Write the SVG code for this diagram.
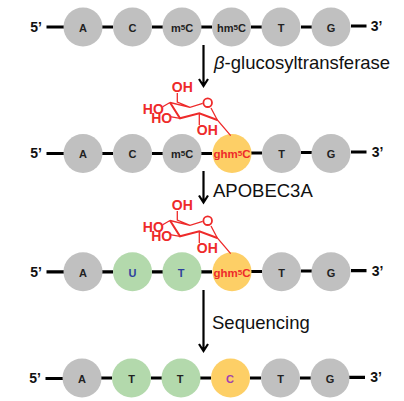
<svg xmlns="http://www.w3.org/2000/svg" width="404" height="401" viewBox="0 0 404 401">
<style>
text{font-family:"Liberation Sans",Arial,sans-serif}
.n{font-size:11px;font-weight:700;fill:#222;text-anchor:middle}
.e{font-size:14px;font-weight:700;fill:#111;text-anchor:middle}
.l{font-size:18.500px;fill:#111}
.g{fill:#c0c0c0}.y{fill:#fdcf66}.v{fill:#b3d9ac}
.b{stroke:#000;stroke-width:3.200;fill:none}
.a{stroke:#000;stroke-width:2.200;fill:none}
.r{stroke:#ee2a2a;stroke-width:1.300;fill:none}
.w{stroke:#ee2a2a;stroke-width:2;fill:none}
.o{font-size:14px;font-weight:700;fill:#ee2a2a;text-anchor:middle}
.t{font-size:11.500px;font-weight:700;fill:#ee2a2a;text-anchor:middle}
.s{font-size:8px}
.u{fill:#2e3f9e}
</style>
<defs>
<g id="sugar">
<path class="r" d="M37.300 18V27L50 32.300L62.700 28.300M30 27.500L50 32.300M22.700 31.700L30 27.500M30 41.700L40 43.300M59.300 38.300V50M71 33L77.300 45L90.700 60.700"/>
<path class="w" d="M30 27.500L40 43.300L59.300 38.300L77.300 45"/>
<circle class="r" style="stroke-width:1.800" cx="67.700" cy="27.700" r="4.300"/>
<text class="o" x="42.300" y="17.300">OH</text>
<text class="o" x="13.300" y="39.300">HO</text>
<text class="o" x="21.700" y="48.300">HO</text>
<text class="o" x="67.300" y="60">OH</text>
</g>
</defs>
<g id="connectors">
<path class="b" d="M46.500 27H64M102 27H113M152 27H163M201 27H212M251 27H262M301 27H312M351 26H366.500"/>
<path class="b" d="M46.500 153.500H64M102 153.500H113M152 153.500H163M201 153.500H212M251 153H262M301 152.500H312M351 152H366.500"/>
<path class="b" d="M46.500 271.800H64M102 271.800H113M152 271.800H163M201 271.800H212M251 271.500H262M301 271H312M351 270.700H366.500"/>
<path class="b" d="M45.500 378.500H63M101 378H112M151 378H162M200 378H211M250 378H261M300 378H311M349 377.300H365"/>
<path class="a" d="M203.500 45V85.500M199 79L203.500 86L208 79"/>
<path class="a" d="M203.500 171V202M199 195.500L203.500 202.500L208 195.500"/>
<path class="a" d="M203.500 290V350.500M199 344L203.500 351L208 344"/>
</g>
<g id="end-labels">
<text class="e" x="36" y="32">5’</text><text class="e" x="376.500" y="31">3’</text>
<text class="e" x="36" y="158">5’</text><text class="e" x="377.500" y="157">3’</text>
<text class="e" x="36" y="277">5’</text><text class="e" x="377.500" y="276">3’</text>
<text class="e" x="35" y="383">5’</text><text class="e" x="376" y="382">3’</text>
</g>
<g id="r1-a"><circle class="g" cx="83" cy="27" r="19.500"/><text class="n" x="83" y="32">A</text></g>
<g id="r1-c"><circle class="g" cx="132.500" cy="27" r="19.500"/><text class="n" x="132.500" y="32">C</text></g>
<g id="r1-m5c"><circle class="g" cx="182" cy="27" r="19.500"/><text class="n" x="182" y="32">m<tspan class="s" dy="-2">5</tspan><tspan dy="2">C</tspan></text></g>
<g id="r1-hm5c"><circle class="g" cx="231.500" cy="27" r="19.500"/><text class="n" x="231.500" y="32">hm<tspan class="s" dy="-2">5</tspan><tspan dy="2">C</tspan></text></g>
<g id="r1-t"><circle class="g" cx="281" cy="27" r="19.500"/><text class="n" x="281" y="32">T</text></g>
<g id="r1-g"><circle class="g" cx="331" cy="27" r="19.500"/><text class="n" x="331" y="32">G</text></g>
<text class="l" x="214" y="69"><tspan font-style="italic">β</tspan>-glucosyltransferase</text>
<g id="r2-a"><circle class="g" cx="83" cy="153.500" r="19.500"/><text class="n" x="83" y="158">A</text></g>
<g id="r2-c"><circle class="g" cx="132.500" cy="153.500" r="19.500"/><text class="n" x="132.500" y="158">C</text></g>
<g id="r2-m5c"><circle class="g" cx="182" cy="153.500" r="19.500"/><text class="n" x="182" y="158">m<tspan class="s" dy="-2">5</tspan><tspan dy="2">C</tspan></text></g>
<g id="r2-ghm5c"><circle class="y" cx="232" cy="153.500" r="19.500"/><text class="t" x="232" y="158">ghm<tspan class="s" dy="-2">5</tspan><tspan dy="2">C</tspan></text></g>
<g id="r2-t"><circle class="g" cx="281.500" cy="153.500" r="19.500"/><text class="n" x="281.500" y="158">T</text></g>
<g id="r2-g"><circle class="g" cx="331" cy="153.500" r="19.500"/><text class="n" x="331" y="158">G</text></g>
<g id="sugar1"><use href="#sugar" x="140" y="75"/></g>
<text class="l" x="213" y="197">APOBEC3A</text>
<g id="r3-a"><circle class="g" cx="83" cy="271.800" r="19.500"/><text class="n" x="83" y="276.500">A</text></g>
<g id="r3-u"><circle class="v" cx="132.500" cy="271.800" r="19.500"/><text class="n u" x="132.500" y="276.500">U</text></g>
<g id="r3-t"><circle class="v" cx="182" cy="271.800" r="19.500"/><text class="n u" x="181" y="276.500">T</text></g>
<g id="r3-ghm5c"><circle class="y" cx="232" cy="271.800" r="19.500"/><text class="t" x="232" y="276.500">ghm<tspan class="s" dy="-2">5</tspan><tspan dy="2">C</tspan></text></g>
<g id="r3-t2"><circle class="g" cx="281.500" cy="271.800" r="19.500"/><text class="n" x="281.500" y="276.500">T</text></g>
<g id="r3-g"><circle class="g" cx="331" cy="271.800" r="19.500"/><text class="n" x="331" y="276.500">G</text></g>
<g id="sugar2"><use href="#sugar" x="140" y="193"/></g>
<text class="l" x="212" y="329">Sequencing</text>
<g id="r4-a"><circle class="g" cx="82" cy="378" r="19.500"/><text class="n" x="82" y="383">A</text></g>
<g id="r4-t1"><circle class="v" cx="131.500" cy="378" r="19.500"/><text class="n" x="131.500" y="383">T</text></g>
<g id="r4-t2"><circle class="v" cx="181" cy="378" r="19.500"/><text class="n" x="180" y="383">T</text></g>
<g id="r4-c"><circle class="y" cx="230.500" cy="378" r="19.500"/><text class="n" style="fill:#a03fb0" x="230" y="383">C</text></g>
<g id="r4-t3"><circle class="g" cx="280.500" cy="378" r="19.500"/><text class="n" x="280.500" y="383">T</text></g>
<g id="r4-g"><circle class="g" cx="330" cy="378" r="19.500"/><text class="n" x="330" y="383">G</text></g>
</svg>
